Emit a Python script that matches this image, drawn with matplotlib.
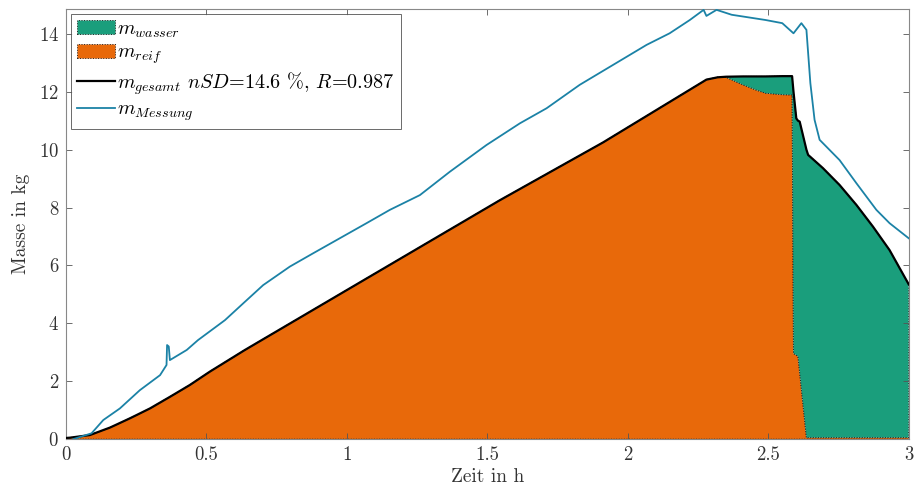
import matplotlib
matplotlib.use("Agg")
import matplotlib.pyplot as plt
import numpy as np
from matplotlib.patches import Patch
from matplotlib.lines import Line2D

# ---- data ----
t_model = [0.0, 0.014, 0.085, 0.157, 0.228, 0.299, 0.370, 0.441, 0.512, 0.637, 1.0,
           1.544, 1.912, 2.28, 2.32, 2.35, 2.41, 2.457, 2.49, 2.55, 2.585, 2.590,
           2.600, 2.606, 2.612, 2.636, 2.642, 2.695, 2.754, 2.814, 2.873, 2.932, 3.0]
m_gesamt = [0.04, 0.05, 0.14, 0.40, 0.72, 1.06, 1.46, 1.87, 2.33, 3.08, 5.15,
            8.25, 10.25, 12.42, 12.50, 12.52, 12.53, 12.53, 12.53, 12.54, 12.54, 12.0,
            11.08, 11.0, 10.97, 10.0, 9.82, 9.36, 8.78, 8.09, 7.34, 6.53, 5.35]
m_reif = [0.04, 0.05, 0.14, 0.40, 0.72, 1.06, 1.46, 1.87, 2.33, 3.08, 5.15,
          8.25, 10.25, 12.42, 12.50, 12.50, 12.24, 12.06, 11.95, 11.90, 11.89, 2.96,
          2.90, 2.85, 2.29, 0.05, 0.05, 0.05, 0.05, 0.05, 0.05, 0.05, 0.05]

t_mess = [0.026, 0.091, 0.133, 0.192, 0.263, 0.335, 0.358, 0.360, 0.366, 0.37, 0.43,
          0.47, 0.566, 0.631, 0.702, 0.797, 0.880, 0.975, 1.070, 1.153, 1.260, 1.367,
          1.497, 1.616, 1.711, 1.829, 1.948, 2.067, 2.149, 2.221, 2.27, 2.28, 2.316,
          2.37, 2.49, 2.55, 2.59, 2.618, 2.636, 2.65, 2.665, 2.683, 2.754, 2.814,
          2.885, 2.932, 3.0]
m_mess = [0.0, 0.2, 0.66, 1.06, 1.69, 2.21, 2.56, 3.25, 3.2, 2.73, 3.08,
          3.42, 4.11, 4.69, 5.32, 5.96, 6.42, 6.94, 7.46, 7.92, 8.43, 9.24,
          10.16, 10.91, 11.43, 12.24, 12.93, 13.62, 14.02, 14.48, 14.83, 14.62, 14.83,
          14.66, 14.48, 14.37, 14.02, 14.37, 14.14, 12.3, 11.03, 10.34, 9.64, 8.84,
          7.92, 7.46, 6.94]

x_ticks = [0, 0.5, 1, 1.5, 2, 2.5, 3]
x_ticklabels = ["0", "0.5", "1", "1.5", "2", "2.5", "3"]
y_ticks = [0, 2, 4, 6, 8, 10, 12, 14]

c_wasser = "#1a9e7c"
c_reif = "#e8690a"
c_mess = "#1b82a6"

plt.rcParams["font.family"] = "serif"
plt.rcParams["font.serif"] = ["cmr10", "DejaVu Serif"]
plt.rcParams["mathtext.fontset"] = "cm"
plt.rcParams["axes.formatter.use_mathtext"] = True

fig = plt.figure(figsize=(9.16, 4.99), dpi=100)
ax = fig.add_axes([0.072, 0.120, 0.920, 0.862])

wasser = np.array(m_gesamt) - np.array(m_reif)
ax.stackplot(t_model, m_reif, wasser, colors=[c_reif, c_wasser],
             edgecolor="#222222", linestyle=":", linewidth=0.7, zorder=1)
ax.plot(t_model, m_gesamt, color="black", lw=1.6, zorder=3)
ax.plot(t_mess, m_mess, color=c_mess, lw=1.3, zorder=4)

ax.set_xlim(0, 3)
ax.set_ylim(0, 14.86)
ax.set_xticks(x_ticks)
ax.set_xticklabels(x_ticklabels)
ax.set_yticks(y_ticks)
ax.tick_params(direction="in", length=4, width=0.6, color="#555555",
               labelsize=13.5, labelcolor="#333333", top=True, right=True, pad=5)
for s in ax.spines.values():
    s.set_color("#888888")
    s.set_linewidth(0.8)

ax.set_xlabel("Zeit in h", fontsize=14, color="#333333", labelpad=3)
ax.set_ylabel("Masse in kg", fontsize=14, color="#333333", labelpad=6)

handles = [
    Patch(facecolor=c_wasser, edgecolor="#222222", linestyle=":", linewidth=0.7),
    Patch(facecolor=c_reif, edgecolor="#222222", linestyle=":", linewidth=0.7),
    Line2D([], [], color="black", lw=1.6),
    Line2D([], [], color=c_mess, lw=1.3),
]
labels = [r"$m_{wasser}$", r"$m_{reif}$",
          r"$m_{gesamt}$ $nSD$=14.6 %, $R$=0.987", r"$m_{Messung}$"]
leg = ax.legend(handles, labels, loc="upper left", fontsize=14.5,
                frameon=True, fancybox=False, edgecolor="#444444",
                borderaxespad=0.25, handlelength=1.9, handletextpad=0.1,
                labelspacing=0.2, borderpad=0.3)
leg.get_frame().set_linewidth(0.7)

fig.savefig("out.png", dpi=100, facecolor="white")
